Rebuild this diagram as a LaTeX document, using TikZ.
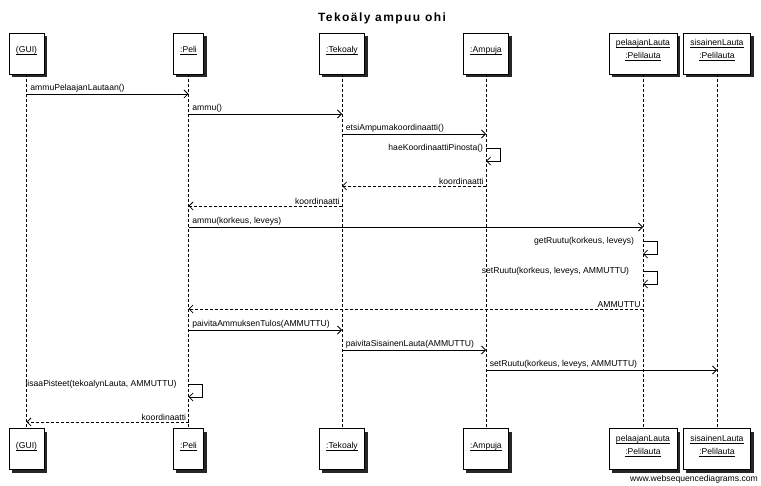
\documentclass[tikz,border=0pt]{standalone}
\usepackage{fontspec}
\setmainfont{Liberation Sans}
\newfontfamily\titlefont[LetterSpace=12]{Liberation Sans}
\usetikzlibrary{positioning}
\usetikzlibrary{arrows.meta}
\usetikzlibrary{shadows}
\newcommand{\ulabel}[1]{\underline{\smash{#1}}}

\tikzset{
  actor/.style={draw, fill=white, line width=0.8pt, minimum height=41pt,
    inner xsep=7pt, align=center, font=\fontsize{8.6}{13}\selectfont,
    drop shadow={shadow xshift=3pt, shadow yshift=-3pt, fill=black!85, opacity=1}},
  lifeline/.style={line width=0.8pt, dash pattern=on 3pt off 2pt},
  msg/.style={line width=0.8pt, -{Straight Barb[length=4pt,width=8pt]}},
  ret/.style={msg, dash pattern=on 3pt off 2pt},
  fwd/.style={anchor=south west, xshift=2pt, inner sep=1.5pt, font=\fontsize{8.6}{11}\selectfont},
  bwd/.style={anchor=south east, xshift=-0.5pt, inner sep=1.5pt, font=\fontsize{8.6}{11}\selectfont},
  slbl/.style={anchor=east, xshift=-1pt, inner sep=1.5pt, font=\fontsize{8.6}{11}\selectfont}
}

\begin{document}
\begin{tikzpicture}[x=1pt, y=-1pt]
   \useasboundingbox (0,0) rectangle (761,486);
   \node[font=\titlefont\fontsize{12}{14}\selectfont\bfseries] (title) at (382,18) {Tekoäly ampuu ohi};

   % participants
   \node[actor] (gui) at (26.5,53.5) {\ulabel{(GUI)}};
   \node[actor] (peli) at (188.5,53.5) {\ulabel{:Peli}};
   \node[actor] (tek) at (342,53.5) {\ulabel{:Tekoaly}};
   \node[actor] (amp) at (486,53.5) {\ulabel{:Ampuja}};
   \node[actor] (plauta) at (643,53.5) {\ulabel{pelaajanLauta}\\\ulabel{:Pelilauta}};
   \node[actor] (slauta) at (717,53.5) {\ulabel{sisainenLauta}\\\ulabel{:Pelilauta}};

   \node[actor] (guiB) [below=354pt of gui] {\ulabel{(GUI)}};
   \node[actor] (peliB) [below=354pt of peli] {\ulabel{:Peli}};
   \node[actor] (tekB) [below=354pt of tek] {\ulabel{:Tekoaly}};
   \node[actor] (ampB) [below=354pt of amp] {\ulabel{:Ampuja}};
   \node[actor] (plautaB) [below=354pt of plauta] {\ulabel{pelaajanLauta}\\\ulabel{:Pelilauta}};
   \node[actor] (slautaB) [below=354pt of slauta] {\ulabel{sisainenLauta}\\\ulabel{:Pelilauta}};

   \foreach \a in {gui, peli, tek, amp, plauta, slauta}
      \draw[lifeline] (\a) -- (\a B);

   % message levels
   \foreach \n/\y in {m1/94, m2/114, m3/134, s4/148, s4b/161, m5/186, m6/206,
      m7/227, s8/241, s8b/254, s9/271, s9b/284, m10/309, m11/330, m12/350,
      m13/370, s14/384, s14b/397, m15/422}
      \coordinate (\n) at (0,\y);

   \draw[msg] (gui |- m1) -- node[fwd, pos=0] {ammuPelaajanLautaan()} (peli |- m1);
   \draw[msg] (peli |- m2) -- node[fwd, pos=0] {ammu()} (tek |- m2);
   \draw[msg] (tek |- m3) -- node[fwd, pos=0] {etsiAmpumakoordinaatti()} (amp |- m3);
   \draw[msg] (amp |- s4) node[slbl] {haeKoordinaattiPinosta()} -- ++(14,0) |- (amp |- s4b);
   \draw[ret] (amp |- m5) -- node[bwd, pos=0] {koordinaatti} (tek |- m5);
   \draw[ret] (tek |- m6) -- node[bwd, pos=0] {koordinaatti} (peli |- m6);
   \draw[msg] (peli |- m7) -- node[fwd, pos=0] {ammu(korkeus, leveys)} (plauta |- m7);
   \draw[msg] (plauta |- s8) node[slbl, xshift=-6pt] {getRuutu(korkeus, leveys)} -- ++(14,0) |- (plauta |- s8b);
   \draw[msg] (plauta |- s9) node[slbl, xshift=-11pt] {setRuutu(korkeus, leveys, AMMUTTU)} -- ++(14,0) |- (plauta |- s9b);
   \draw[ret] (plauta |- m10) -- node[bwd, pos=0] {AMMUTTU} (peli |- m10);
   \draw[msg] (peli |- m11) -- node[fwd, pos=0] {paivitaAmmuksenTulos(AMMUTTU)} (tek |- m11);
   \draw[msg] (tek |- m12) -- node[fwd, pos=0] {paivitaSisainenLauta(AMMUTTU)} (amp |- m12);
   \draw[msg] (amp |- m13) -- node[fwd, pos=0] {setRuutu(korkeus, leveys, AMMUTTU)} (slauta |- m13);
   \draw[msg] (peli |- s14) node[slbl, xshift=-9pt] {lisaaPisteet(tekoalynLauta, AMMUTTU)} -- ++(14,0) |- (peli |- s14b);
   \draw[ret] (peli |- m15) -- node[bwd, pos=0] {koordinaatti} (gui |- m15);

   \node[anchor=east, inner sep=0pt, font=\fontsize{8.6}{11}\selectfont] (wsd) at (758,479) {www.websequencediagrams.com};
\end{tikzpicture}
\end{document}
